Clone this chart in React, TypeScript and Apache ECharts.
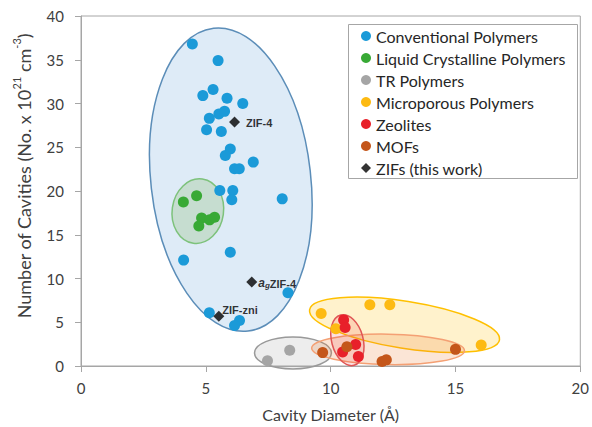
import React, { useEffect, useRef } from "react";
import * as echarts from "echarts";

// ---- data (x: cavity diameter Å, y: number of cavities) ----
const conventional = [
  [4.46, 36.8], [5.49, 34.9], [4.88, 30.9], [5.29, 31.6], [5.85, 30.6], [6.48, 30.0],
  [5.52, 28.8], [5.75, 29.1], [5.14, 28.3], [5.03, 27.0], [5.62, 26.8], [5.98, 24.8],
  [5.78, 24.05], [6.9, 23.3], [6.15, 22.55], [6.34, 22.55], [5.56, 20.05], [6.08, 20.05],
  [6.04, 19.0], [8.06, 19.1], [5.98, 13.0], [4.11, 12.1], [8.29, 8.37], [5.14, 6.08],
  [6.35, 5.19], [6.15, 4.63],
];
const liquidCrystalline = [
  [4.1, 18.75], [4.63, 19.45], [4.83, 16.9], [4.72, 16.0], [5.15, 16.7], [5.35, 17.0],
];
const trPolymers = [[7.47, 0.6], [8.36, 1.8]];
const microporous = [[9.62, 6.0], [11.57, 7.0], [12.37, 7.0], [10.21, 4.26], [16.03, 2.4]];
const zeolites = [[10.52, 5.27], [10.58, 4.4], [11.0, 2.46], [10.48, 1.6], [11.11, 1.08]];
const mofs = [[9.68, 1.53], [10.65, 2.2], [12.06, 0.52], [12.23, 0.7], [15.0, 1.9]];
const zifs = [[6.15, 27.9], [6.84, 9.6], [5.52, 5.68]];
const zifNames = ["ZIF-4", "agZIF-4", "ZIF-zni"];

// group regions: [centre x, centre y, semi-axis x, semi-axis y, rotation deg]
const regionConventional = [6.0, 21.3, 3.2, 17.41, 6.5];
const regionLiquid = [4.68, 17.7, 1.03, 3.7, -8];
const regionTR = [8.49, 1.49, 1.54, 1.83, 0];
const regionMicro = [12.96, 4.71, 3.85, 2.69, -9];
const regionMOF = [12.3, 1.9, 3.06, 1.74, -1];
const regionZeolite = [10.67, 2.95, 0.63, 2.97, 15];

const seriesNames = [
  "Conventional Polymers",
  "Liquid Crystalline Polymers",
  "TR Polymers",
  "Microporous Polymers",
  "Zeolites",
  "MOFs",
  "ZIFs (this work)",
];

const FONT = "Lato, 'Noto Sans', sans-serif";
const TEXT = "#404040";
const AXIS = "#A6A6A6";

function ellipseSeries(region: number[], fill: string, stroke: string, z: number) {
  return {
    type: "custom",
    silent: true,
    z,
    clip: false,
    renderItem: (params: any, api: any) => {
      const c = api.coord([api.value(0), api.value(1)]);
      const s = api.size([api.value(2), api.value(3)]);
      return {
        type: "ellipse",
        x: c[0],
        y: c[1],
        rotation: (api.value(4) * Math.PI) / 180,
        shape: { cx: 0, cy: 0, rx: s[0], ry: s[1] },
        style: { fill, stroke, lineWidth: 1.5 },
      };
    },
    data: [region],
  };
}

function scatter(name: string, data: number[][], color: string) {
  return {
    name,
    type: "scatter",
    z: 5,
    symbol: "circle",
    symbolSize: 11,
    itemStyle: { color, opacity: 1 },
    data,
  };
}

export default function App() {
  const ref = useRef<HTMLDivElement>(null);
  useEffect(() => {
    const chart = echarts.init(ref.current!, null, { renderer: "svg" });
    chart.setOption({
      animation: false,
      grid: {
        left: 81,
        right: 8,
        top: 16,
        bottom: 54,
        show: true,
        borderColor: AXIS,
        borderWidth: 1,
      },
      xAxis: {
        type: "value",
        min: 0,
        max: 20,
        interval: 5,
        name: "Cavity Diameter (Å)",
        nameLocation: "middle",
        nameGap: 40,
        nameTextStyle: { fontFamily: FONT, fontSize: 16, color: TEXT },
        axisLine: { show: true, lineStyle: { color: AXIS } },
        axisTick: { show: true, length: 6, lineStyle: { color: AXIS } },
        axisLabel: { fontFamily: FONT, fontSize: 15, color: TEXT, margin: 14 },
        splitLine: { show: false },
      },
      yAxis: {
        type: "value",
        min: 0,
        max: 40,
        interval: 5,
        axisLine: { show: true, lineStyle: { color: AXIS } },
        axisTick: { show: true, length: 6, lineStyle: { color: AXIS } },
        axisLabel: { fontFamily: FONT, fontSize: 15, color: TEXT, margin: 17 },
        splitLine: { show: false },
      },
      legend: {
        orient: "vertical",
        left: 348,
        top: 24,
        padding: [1, 10, 0, 13],
        itemGap: 0,
        itemWidth: 10,
        itemHeight: 10,
        z: 6,
        textStyle: { fontFamily: FONT, fontSize: 16, color: "#262626", lineHeight: 22 },
        data: seriesNames.map((n, i) => ({ name: n, icon: i === 6 ? "diamond" : "circle" })),
      },
      graphic: [
        {
          type: "rect",
          z: 5,
          shape: { x: 348.5, y: 24.5, width: 229, height: 154 },
          style: { fill: "#ffffff", stroke: AXIS, lineWidth: 1 },
        },
        {
          type: "text",
          x: 22,
          y: 176,
          rotation: Math.PI / 2,
          style: {
            text: "{n|Number of Cavities (No. x 10}{s|21}{n| cm}{s|-3}{n|)}",
            align: "center",
            verticalAlign: "middle",
            rich: {
              n: { fontFamily: FONT, fontSize: 18, fill: TEXT, verticalAlign: "bottom", lineHeight: 22 },
              s: { fontFamily: FONT, fontSize: 11, fill: TEXT, verticalAlign: "top", lineHeight: 22 },
            },
          },
        },
      ],
      series: [
        ellipseSeries(regionConventional, "rgba(91,155,213,0.2)", "#5B8DB8", 1),
        ellipseSeries(regionLiquid, "rgba(112,173,71,0.22)", "#7DC27B", 2),
        ellipseSeries(regionTR, "rgba(165,165,165,0.2)", "#999999", 2),
        ellipseSeries(regionMicro, "rgba(255,192,0,0.2)", "#FFC000", 2),
        ellipseSeries(regionMOF, "rgba(237,125,49,0.2)", "#F4A074", 2),
        ellipseSeries(regionZeolite, "rgba(232,32,42,0.14)", "#E05555", 3),
        scatter(seriesNames[0], conventional, "#1B9AD8"),
        scatter(seriesNames[1], liquidCrystalline, "#38A935"),
        scatter(seriesNames[2], trPolymers, "#A5A5A5"),
        scatter(seriesNames[3], microporous, "#FDBA12"),
        scatter(seriesNames[4], zeolites, "#E8202A"),
        scatter(seriesNames[5], mofs, "#C4561A"),
        {
          name: seriesNames[6],
          type: "scatter",
          z: 6,
          symbol: "diamond",
          symbolSize: 11,
          itemStyle: { color: "#000000" },
          data: zifs.map((p, i) => {
            const base: any = { value: p };
            if (i === 0) {
              base.label = { show: true, position: "right", distance: 6, formatter: "{b|ZIF-4}" };
            } else if (i === 1) {
              base.label = { show: true, position: "right", distance: 1, formatter: "{i|a}{sub|g}{b|ZIF-4}" };
            } else {
              base.label = { show: true, position: "right", distance: 0, offset: [-2, -8], formatter: "{b|ZIF-zni}" };
            }
            base.name = zifNames[i];
            return base;
          }),
          label: {
            rich: {
              b: { fontFamily: "'Liberation Sans', sans-serif", fontWeight: "bold", fontSize: 11, color: "#000", verticalAlign: "bottom", lineHeight: 14 },
              i: { fontFamily: "'Liberation Sans', sans-serif", fontStyle: "italic", fontWeight: "bold", fontSize: 12, color: "#000", verticalAlign: "bottom", lineHeight: 14 },
              sub: { fontFamily: "'Liberation Sans', sans-serif", fontStyle: "italic", fontWeight: "bold", fontSize: 8, color: "#000", verticalAlign: "bottom", lineHeight: 10 },
            },
          },
        },
      ],
    });
    return () => chart.dispose();
  }, []);
  return <div ref={ref} style={{ position: "absolute", left: 0, top: 0, width: 592, height: 427 }} />;
}
